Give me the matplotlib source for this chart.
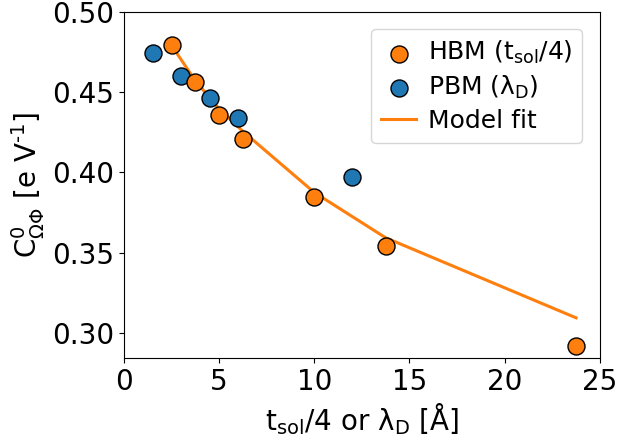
import matplotlib
matplotlib.use("Agg")
import matplotlib.pyplot as plt

# HBM (t_sol/4) points
hbm_x = [2.5, 3.75, 5.0, 6.25, 10.0, 13.75, 23.75]
hbm_y = [0.479, 0.456, 0.436, 0.421, 0.3845, 0.354, 0.292]

# PBM (lambda_D) points
pbm_x = [1.5, 3.0, 4.5, 6.0, 12.0]
pbm_y = [0.474, 0.460, 0.4465, 0.434, 0.397]

# model fit evaluated at the HBM positions
fit_x = [2.5, 3.75, 5.0, 6.25, 10.0, 13.75, 23.75]
fit_y = [0.479, 0.457, 0.4395, 0.4255, 0.3875, 0.3593, 0.3095]

plt.rcParams.update({"font.size": 20, "mathtext.default": "regular"})

fig = plt.figure(figsize=(6.18, 4.44), dpi=100)
ax = fig.add_axes([0.2006, 0.1937, 0.7700, 0.7800])

line, = ax.plot(fit_x, fit_y, color="#ff7f0e", linewidth=2.2, zorder=1, label="Model fit")
pbm = ax.scatter(pbm_x, pbm_y, s=150, color="#1f77b4", edgecolor="black", linewidth=1.0,
                 zorder=2, label=r"PBM ($\lambda_D$)")
hbm = ax.scatter(hbm_x, hbm_y, s=150, color="#ff7f0e", edgecolor="black", linewidth=1.0,
                 zorder=3, label=r"HBM ($t_{sol}$/4)")

ax.set_xlim(0, 25)
ax.set_ylim(0.2845, 0.50)
ax.set_xticks([0, 5, 10, 15, 20, 25])
ax.set_yticks([0.30, 0.35, 0.40, 0.45, 0.50])
ax.set_xlabel(r"$t_{sol}$/4 or $\lambda_D$ [Å]")
ax.set_ylabel(r"$C^0_{\Omega\Phi}$ [e V$^{\text{-}1}$]")

ax.legend(handles=[hbm, pbm, line], loc="upper right", fontsize=18,
          borderaxespad=0.7, handletextpad=0.45, handlelength=1.4,
          borderpad=0.4, labelspacing=0.3)

fig.savefig("out.png", dpi=100)
